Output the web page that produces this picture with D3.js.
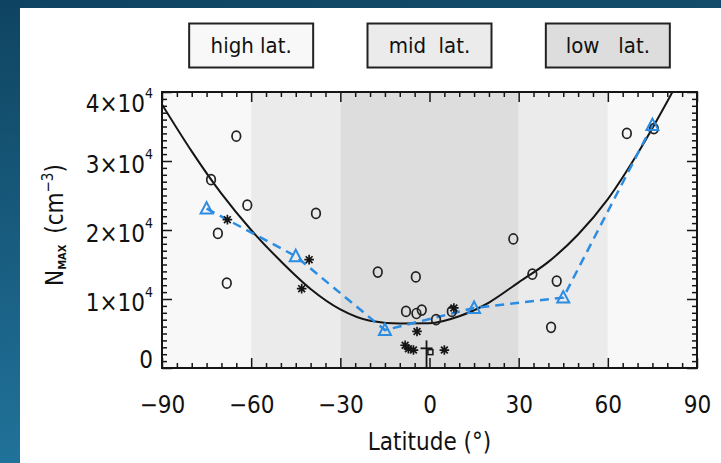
<!DOCTYPE html>
<html>
<head>
<meta charset="utf-8">
<script src="https://cdn.jsdelivr.net/npm/d3@7"></script>
<style>
  html, body { margin: 0; padding: 0; background: #fff; }
  svg { display: block; }
  text { font-family: 'DejaVu Sans Condensed', 'DejaVu Sans', sans-serif; font-stretch: condensed; fill: #111; }
</style>
</head>
<body>
<svg id="chart" width="721" height="463"></svg>
<script>
// Axis ticks
const latTicks = [-90, -60, -30, 0, 30, 60, 90];
const nmaxTicks = [0, 10000, 20000, 30000, 40000];

// Latitude zones
const zoneNames = ["high lat.", "mid  lat.", "low   lat."];
const zoneCenters = [-60, 0, 60];
const bandFrom = [-90, -60, -30, 30, 60];
const bandTo = [-60, -30, 30, 60, 90];
const bandZone = [0, 1, 2, 1, 0];

// Individual NmMAX values (open circles)
const circleLat = [-73.5, -65, -61.3, -71.2, -68.2, -38.2, -17.4, -4.6, -7.9, -4.4, -2.6, 2.2, 7.5, 28.2, 34.6, 42.8, 40.9, 66.4, 75.5];
const circleN = [27300, 33600, 23600, 19500, 12300, 22400, 13900, 13200, 8200, 7900, 8400, 7000, 8200, 18700, 13600, 12600, 5900, 34000, 34700];

// Individual NmMAX values (asterisks)
const starLat = [-68, -40.5, -43, -4.2, -8.2, -7.1, -5.4, 5.0, 8.2];
const starN = [21500, 15700, 11500, 5300, 3300, 2800, 2600, 2600, 8700];

// Value with its range bar (plus sign)
const plusLat = [-1];
const plusN = [2850];
const plusLow = [0];
const plusHigh = [4000];

// Square symbol
const squareLat = [0.3];
const squareN = [2300];

// Zonal means (blue triangles)
const meanLat = [-75, -45, -15, 15, 45, 75];
const meanN = [23100, 16200, 5500, 8700, 10200, 35200];

// Polynomial fit
const fitLat = [-90, -80, -70, -60, -50, -40, -30, -20, -10, 0, 10, 20, 30, 40, 50, 60, 70, 80, 85];
const fitN = [38200, 31400, 25260, 20000, 15470, 11460, 8500, 6850, 6440, 6480, 7500, 9490, 12420, 15380, 19340, 24470, 31080, 38630, 42600];

const zoneFill = ["#f8f8f8", "#ebebeb", "#dddddd"];
const ink = "#151515";
const meanColor = "#2b8ce2";

const svg = d3.select("#chart");

// slide background
const defs = svg.append("defs");
const grad = defs.append("linearGradient").attr("id", "slideBg")
  .attr("x1", "0").attr("y1", "0").attr("x2", "0.15").attr("y2", "1");
grad.append("stop").attr("offset", "0").attr("stop-color", "#0f4461");
grad.append("stop").attr("offset", "1").attr("stop-color", "#21739b");
svg.append("rect").attr("width", 721).attr("height", 463).attr("fill", "url(#slideBg)");
svg.append("rect").attr("x", 20).attr("y", 8).attr("width", 701).attr("height", 455).attr("fill", "#ffffff");

const x = d3.scaleLinear().domain([-90, 90]).range([162, 697]);
const y = d3.scaleLinear().domain([0, 40000]).range([368, 92]);

defs.append("clipPath").attr("id", "plotClip")
  .append("rect").attr("x", x(-90)).attr("y", y(40000))
  .attr("width", x(90) - x(-90)).attr("height", y(0) - y(40000));

// latitude bands
svg.append("g").selectAll("rect").data(bandFrom).join("rect")
  .attr("x", (d) => x(d))
  .attr("y", y(40000))
  .attr("width", (d, i) => x(bandTo[i]) - x(d))
  .attr("height", y(0) - y(40000))
  .attr("fill", (d, i) => zoneFill[bandZone[i]]);

// zone key boxes
const key = svg.append("g").selectAll("g").data(zoneNames).join("g")
  .attr("transform", (d, i) => `translate(${x(zoneCenters[i])},45.5)`);
key.append("rect")
  .attr("x", -62).attr("y", -22).attr("width", 124).attr("height", 44)
  .attr("fill", (d, i) => zoneFill[i])
  .attr("stroke", "#222").attr("stroke-width", 2);
key.append("text")
  .attr("text-anchor", "middle").attr("y", 7.5)
  .style("white-space", "pre")
  .attr("font-size", 22)
  .text((d) => d);

const plot = svg.append("g").attr("clip-path", "url(#plotClip)");

// fit curve
plot.append("path")
  .attr("d", d3.line().x((d) => x(d)).y((d, i) => y(fitN[i])).curve(d3.curveMonotoneX)(fitLat))
  .attr("fill", "none").attr("stroke", ink).attr("stroke-width", 2);

// zonal mean dashed line
plot.append("path")
  .attr("d", d3.line().x((d) => x(d)).y((d, i) => y(meanN[i]))(meanLat))
  .attr("fill", "none").attr("stroke", meanColor).attr("stroke-width", 2.5)
  .attr("stroke-dasharray", "9,6");

// circles
plot.append("g").selectAll("ellipse").data(circleLat).join("ellipse")
  .attr("cx", (d) => x(d)).attr("cy", (d, i) => y(circleN[i]))
  .attr("rx", 4.3).attr("ry", 5)
  .attr("fill", "none").attr("stroke", "#222").attr("stroke-width", 1.7);

// asterisks
const star = "M0,-4.8V4.8M-4.8,0H4.8M-3.4,-3.4L3.4,3.4M-3.4,3.4L3.4,-3.4";
plot.append("g").selectAll("path").data(starLat).join("path")
  .attr("transform", (d, i) => `translate(${x(d)},${y(starN[i])})`)
  .attr("d", star)
  .attr("fill", "none").attr("stroke", ink).attr("stroke-width", 1.7);

// plus sign with range bar
const plusG = plot.append("g").selectAll("g").data(plusLat).join("g");
plusG.append("line")
  .attr("x1", (d) => x(d)).attr("x2", (d) => x(d))
  .attr("y1", (d, i) => y(plusHigh[i])).attr("y2", (d, i) => y(plusLow[i]))
  .attr("stroke", ink).attr("stroke-width", 1.8);
plusG.append("line")
  .attr("x1", (d) => x(d) - 6).attr("x2", (d) => x(d) + 6)
  .attr("y1", (d, i) => y(plusN[i])).attr("y2", (d, i) => y(plusN[i]))
  .attr("stroke", ink).attr("stroke-width", 1.8);

// squares
plot.append("g").selectAll("rect").data(squareLat).join("rect")
  .attr("x", (d) => x(d) - 2.5).attr("y", (d, i) => y(squareN[i]) - 2.5)
  .attr("width", 5).attr("height", 5)
  .attr("fill", "none").attr("stroke", ink).attr("stroke-width", 1.5);

// zonal mean triangles
plot.append("g").selectAll("path").data(meanLat).join("path")
  .attr("transform", (d, i) => `translate(${x(d)},${y(meanN[i])})`)
  .attr("d", "M0,-6.5L6,5L-6,5Z")
  .attr("fill", "none").attr("stroke", meanColor).attr("stroke-width", 2);

// axes (ticks point inward)
function styleAxis(g) {
  g.select(".domain").remove();
  g.selectAll(".tick line").attr("stroke", ink).attr("stroke-width", 1.5);
  g.selectAll("text").attr("font-size", 24).attr("fill", "#111").attr("font-family", null);
}
const minorLat = x.ticks(36).filter((d) => latTicks.indexOf(d) < 0);
const minorN = y.ticks(40).filter((d) => nmaxTicks.indexOf(d) < 0);

const xb = svg.append("g").attr("transform", `translate(0,${y(0)})`)
  .call(d3.axisBottom(x).tickValues(latTicks).tickSizeInner(-10).tickSizeOuter(0).tickPadding(28)
    .tickFormat((d) => (d < 0 ? "\u2212" + Math.abs(d) : String(d))));
styleAxis(xb);
svg.append("g").attr("transform", `translate(0,${y(0)})`)
  .call(d3.axisBottom(x).tickValues(minorLat).tickSizeInner(-5).tickSizeOuter(0).tickFormat(""))
  .call(styleAxis);
svg.append("g").attr("transform", `translate(0,${y(40000)})`)
  .call(d3.axisTop(x).tickValues(latTicks).tickSizeInner(-10).tickSizeOuter(0).tickFormat(""))
  .call(styleAxis);
svg.append("g").attr("transform", `translate(0,${y(40000)})`)
  .call(d3.axisTop(x).tickValues(minorLat).tickSizeInner(-5).tickSizeOuter(0).tickFormat(""))
  .call(styleAxis);

const yl = svg.append("g").attr("transform", `translate(${x(-90)},0)`)
  .call(d3.axisLeft(y).tickValues(nmaxTicks).tickSizeInner(-10).tickSizeOuter(0).tickPadding(9).tickFormat(""));
styleAxis(yl);
yl.selectAll(".tick text").each(function (d) {
  const t = d3.select(this);
  // keep end labels inside the frame
  const shift = Math.max(y(40000) + 11, Math.min(y(0) - 9, y(d) + 3)) - y(d);
  t.attr("dy", null).attr("y", shift).attr("dominant-baseline", "central");
  if (d === 0) { t.append("tspan").text("0"); return; }
  const e = Math.floor(Math.log10(d));
  t.append("tspan").text(`${d / Math.pow(10, e)}\u00d710`);
  t.append("tspan").attr("font-size", 14).attr("dy", "-0.75em").text(String(e));
});
svg.append("g").attr("transform", `translate(${x(-90)},0)`)
  .call(d3.axisLeft(y).tickValues(minorN).tickSizeInner(-5).tickSizeOuter(0).tickFormat(""))
  .call(styleAxis);
svg.append("g").attr("transform", `translate(${x(90)},0)`)
  .call(d3.axisRight(y).tickValues(nmaxTicks).tickSizeInner(-10).tickSizeOuter(0).tickFormat(""))
  .call(styleAxis);
svg.append("g").attr("transform", `translate(${x(90)},0)`)
  .call(d3.axisRight(y).tickValues(minorN).tickSizeInner(-5).tickSizeOuter(0).tickFormat(""))
  .call(styleAxis);

// frame
svg.append("rect")
  .attr("x", x(-90)).attr("y", y(40000))
  .attr("width", x(90) - x(-90)).attr("height", y(0) - y(40000))
  .attr("fill", "none").attr("stroke", ink).attr("stroke-width", 2);

// axis titles
svg.append("text")
  .attr("x", x(0)).attr("y", 450)
  .attr("text-anchor", "middle").attr("font-size", 24)
  .text("Latitude (\u00b0)");

const yt = svg.append("text")
  .attr("transform", "translate(63,225) rotate(-90)")
  .attr("text-anchor", "middle").attr("font-size", 24);
yt.append("tspan").text("N");
yt.append("tspan").attr("font-size", 11).attr("font-weight", "bold").attr("dy", 3).text("MAX");
yt.append("tspan").attr("dy", -3).text("\u2002(cm");
yt.append("tspan").attr("font-size", 15).attr("dy", -10).text("\u22123");
yt.append("tspan").attr("dy", 10).text(")");
</script>
</body>
</html>
